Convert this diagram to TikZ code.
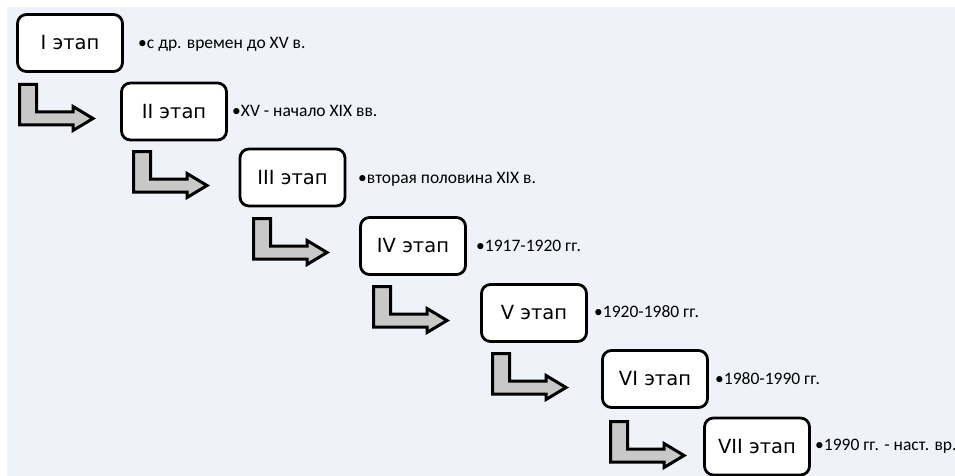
\documentclass[tikz,border=0pt]{standalone}
\usepackage{fontspec}
\setmainfont{Carlito}
\newfontfamily\boxfont{DejaVu Sans}
\definecolor{bgcol}{HTML}{EFF2F8}
\definecolor{arrowfill}{HTML}{C8C8C8}
\tikzset{
  stagebox/.style={draw=black, line width=2.8pt, fill=white, rounded corners=9pt,
    minimum width=105pt, minimum height=57pt, inner sep=0pt,
    font=\boxfont\fontsize{19.5}{21}\selectfont},
  datelabel/.style={anchor=west, inner sep=0pt, font=\fontsize{17.5}{19}\selectfont},
  bentarrow/.pic={
    \draw[line width=3pt, fill=arrowfill, line join=miter]
      (1.5,-1.5) -- (18.5,-1.5) -- (18.5,-29) -- (55,-29) -- (55,-23.5)
      -- (75,-35.5) -- (55,-47.5) -- (55,-42) -- (1.5,-42) -- cycle;
  }
}
\begin{document}
\begin{tikzpicture}[x=1pt,y=1pt]
\useasboundingbox (0,0) rectangle (955,-476);
\fill[white] (0,0) rectangle (955,-476);
\fill[bgcol] (7,-7) rectangle (955,-476);
\begin{scope}
\clip (0,0) rectangle (955,-476);
% boxes
\node[stagebox] (s1) at (70,-43) {I этап};
\node[stagebox] (s2) at (174,-111.5) {II этап};
\node[stagebox] (s3) at (292.5,-177.5) {III этап};
\node[stagebox] (s4) at (413,-246) {IV этап};
\node[stagebox] (s5) at (534,-313) {V этап};
\node[stagebox] (s6) at (655,-379) {VI этап};
\node[stagebox] (s7) at (757,-446.5) {VII этап};
% labels
\node[datelabel] (l1) at (138,-44) {•с др. времен до XV в.};
\node[datelabel] (l2) at (232,-111) {•XV - начало XIX вв.};
\node[datelabel] (l3) at (358,-179) {•вторая половина XIX в.};
\node[datelabel] (l4) at (476,-246) {•1917-1920 гг.};
\node[datelabel] (l5) at (594,-312) {•1920-1980 гг.};
\node[datelabel] (l6) at (715,-379) {•1980-1990 гг.};
\node[datelabel] (l7) at (815,-446) {•1990 гг. - наст. вр.};
% bent arrows
\pic at (18,-83) {bentarrow};
\pic at (132,-150) {bentarrow};
\pic at (252,-217) {bentarrow};
\pic at (372,-285) {bentarrow};
\pic at (491,-352) {bentarrow};
\pic at (609,-420) {bentarrow};
\end{scope}
\end{tikzpicture}
\end{document}
